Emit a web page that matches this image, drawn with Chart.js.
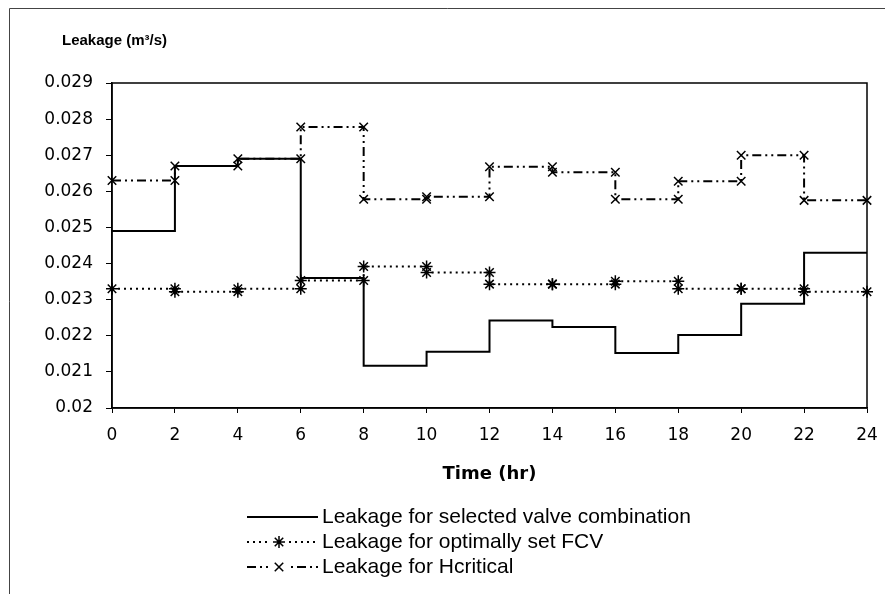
<!DOCTYPE html>
<html>
<head>
<meta charset="utf-8">
<title>Leakage</title>
<script src="https://cdn.jsdelivr.net/npm/chart.js@4.4.0/dist/chart.umd.min.js"></script>
<style>
  html, body { margin: 0; padding: 0; background: #fff; }
  #wrap { width: 885px; height: 594px; }
</style>
</head>
<body>
<div id="wrap"><canvas id="leakChart" width="885" height="594"></canvas></div>
<script>
// step boundaries (hours) and the value held over each 2-hour step
const hours = [0, 2, 4, 6, 8, 10, 12, 14, 16, 18, 20, 22, 24];
const selectedValve = [0.0249, 0.0267, 0.0269, 0.0236, 0.02117, 0.02156, 0.02242, 0.02224, 0.02152, 0.02202, 0.02289, 0.0243];
const optimalFCV = [0.0233, 0.02322, 0.0233, 0.02353, 0.02392, 0.02375, 0.02343, 0.02343, 0.02351, 0.0233, 0.0233, 0.02322];
const hCritical = [0.0263, 0.0267, 0.0269, 0.02778, 0.02578, 0.02585, 0.02668, 0.02653, 0.02578, 0.02628, 0.0270, 0.02575];
const seriesLabels = [
  'Leakage for selected valve combination',
  'Leakage for optimally set FCV',
  'Leakage for Hcritical'
];
const yTicks = [0.02, 0.021, 0.022, 0.023, 0.024, 0.025, 0.026, 0.027, 0.028, 0.029];
const xTicks = hours;

// turn a list of step values into points at both ends of each step
function stepPoints(vals) {
  const pts = [];
  vals.forEach((v, i) => {
    pts.push({ x: hours[i], y: v });
    pts.push({ x: hours[i + 1], y: v });
  });
  return pts;
}

const tickFont = { family: 'DejaVu Sans', size: 17 };

// frame, plot box, y title and legend drawn round the chart
const decorPlugin = {
  id: 'decor',
  beforeDraw(chart) {
    const ctx = chart.ctx;
    ctx.save();
    ctx.fillStyle = '#fff';
    ctx.fillRect(0, 0, chart.width, chart.height);
    ctx.strokeStyle = '#444';
    ctx.lineWidth = 1;
    ctx.beginPath();
    ctx.moveTo(9.5, 8.5); ctx.lineTo(chart.width, 8.5);
    ctx.moveTo(9.5, 8.5); ctx.lineTo(9.5, chart.height);
    ctx.stroke();
    ctx.restore();
  },
  afterDraw(chart) {
    const ctx = chart.ctx;
    const a = chart.chartArea;
    ctx.save();
    ctx.strokeStyle = '#000';
    ctx.lineWidth = 1.5;
    ctx.strokeRect(a.left, a.top, a.right - a.left, a.bottom - a.top);

    ctx.fillStyle = '#000';
    ctx.font = 'bold 15px "Liberation Sans", Arial, sans-serif';
    ctx.textBaseline = 'middle';
    ctx.textAlign = 'left';
    ctx.fillText('Leakage (m\u00B3/s)', 62, 41);

    // legend
    const x0 = 247, x1 = 318, rows = [517, 542, 567];
    ctx.font = '21px "Liberation Sans", Arial, sans-serif';
    chart.data.datasets.forEach((ds, i) => {
      const y = rows[i];
      ctx.strokeStyle = '#000';
      ctx.lineWidth = ds.borderWidth;
      ctx.setLineDash(ds.borderDash || []);
      ctx.beginPath();
      ctx.moveTo(x0, y); ctx.lineTo(x1, y);
      ctx.stroke();
      ctx.setLineDash([]);
      if (ds.pointRadius > 0) {
        ctx.fillStyle = '#fff';
        ctx.fillRect(271, y - 6, 16, 12);
        ctx.strokeStyle = '#000';
        ctx.lineWidth = ds.pointBorderWidth;
        Chart.helpers.drawPoint(ctx, {
          pointStyle: ds.pointStyle, radius: ds.pointRadius, rotation: 0, borderWidth: ds.pointBorderWidth
        }, 279, y);
      }
      ctx.fillStyle = '#000';
      ctx.fillText(ds.label, 322, y);
    });
    ctx.restore();
  }
};

new Chart(document.getElementById('leakChart'), {
  type: 'line',
  data: {
    datasets: [
      {
        label: seriesLabels[0], data: stepPoints(selectedValve),
        borderColor: '#000', borderWidth: 2, pointRadius: 0, clip: false
      },
      {
        label: seriesLabels[1], data: stepPoints(optimalFCV),
        borderColor: '#000', borderWidth: 2, borderDash: [2, 4],
        pointStyle: 'star', pointRadius: 6, pointBorderWidth: 1.5,
        pointBorderColor: '#000', pointBackgroundColor: '#000', clip: false
      },
      {
        label: seriesLabels[2], data: stepPoints(hCritical),
        borderColor: '#000', borderWidth: 2, borderDash: [9, 4, 2, 4, 2, 4],
        pointStyle: 'crossRot', pointRadius: 6, pointBorderWidth: 1.5,
        pointBorderColor: '#000', pointBackgroundColor: '#000', clip: false
      }
    ]
  },
  options: {
    responsive: false,
    animation: false,
    events: [],
    layout: { padding: { left: 0, top: 83, right: 18, bottom: 106 } },
    plugins: { legend: { display: false }, tooltip: { enabled: false } },
    scales: {
      x: {
        type: 'linear', min: 0, max: 24,
        afterBuildTicks(s) { s.ticks = xTicks.map(v => ({ value: v })); },
        afterFit(s) { s.height = 80; s.paddingLeft = 0; s.paddingRight = 0; },
        ticks: { color: '#000', font: { family: 'DejaVu Sans', size: 17 }, padding: 12, maxRotation: 0 },
        grid: { drawOnChartArea: false, drawTicks: true, tickLength: 5, color: '#000', lineWidth: 1 },
        border: { display: true, color: '#000', width: 1.5 },
        title: {
          display: true, text: 'Time (hr)', color: '#000',
          font: { family: 'DejaVu Sans', size: 18, weight: 'bold' }, padding: { top: 0, bottom: 3 }
        }
      },
      y: {
        type: 'linear', min: 0.02, max: 0.029,
        afterBuildTicks(s) { s.ticks = yTicks.map(v => ({ value: v })); },
        afterFit(s) { s.width = 112; s.paddingTop = 0; s.paddingBottom = 0; },
        ticks: {
          color: '#000', font: tickFont, padding: 13,
          callback: v => String(Number(v.toFixed(3)))
        },
        grid: { drawOnChartArea: false, drawTicks: true, tickLength: 6, color: '#000', lineWidth: 1 },
        border: { display: true, color: '#000', width: 1.5 }
      }
    }
  },
  plugins: [decorPlugin]
});
</script>
</body>
</html>
